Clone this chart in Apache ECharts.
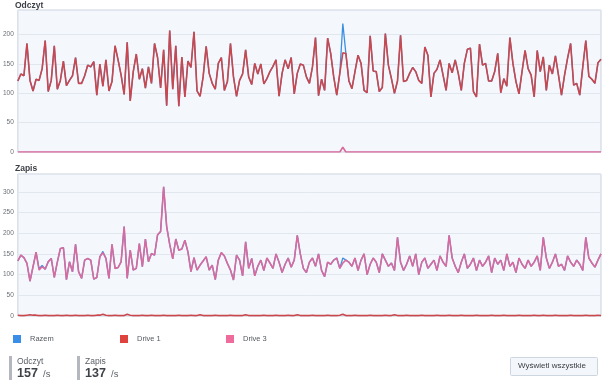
<!DOCTYPE html>
<html><head><meta charset="utf-8">
<script src="https://cdn.jsdelivr.net/npm/echarts@6/dist/echarts.min.js"></script>
<style>html,body{margin:0;padding:0;background:#fff;}#c{width:605px;height:383px;}</style>
</head><body><div id="c"></div>
<script>
const seriesNames = ['Razem', 'Drive 1', 'Drive 3'];
const readYTicks = [0, 50, 100, 150, 200];
const writeYTicks = [0, 50, 100, 150, 200, 250, 300];
const statLabels = ['Odczyt', 'Zapis'];
const statValues = [157, 137];
const statUnit = '/s';
const buttonText = 'Wyświetl wszystkie';

const readDrive1 = [121,133,130,185,122,104,124,122,142,190,103,122,181,107,122,155,113,122,130,161,117,117,130,148,145,154,97,150,112,157,104,120,181,157,131,98,187,87,137,167,124,142,109,145,117,185,161,109,174,79,207,107,181,78,162,94,155,144,205,104,
95,128,180,
134,117,107,151,161,105,120,185,128,95,122,133,174,128,115,151,133,150,116,125,137,146,157,95,134,157,142,161,99,134,150,
148,128,117,145,195,96,124,105,194,168,128,97,134,169,168,121,108,137,165,151,105,101,198,138,137,103,110,202,148,125,100,121,199,120,
122,134,144,137,122,117,179,165,94,134,141,157,131,105,151,135,157,134,105,151,175,177,103,94,184,148,151,121,121,137,168,101,125,
112,195,151,120,99,137,173,142,131,94,173,137,162,105,148,133,164,131,97,131,160,185,114,117,97,145,190,129,124,117,152,158];

const readRazem = [121,133,130,185,122,104,124,122,142,190,103,122,181,107,122,155,113,122,130,161,117,117,130,148,145,154,97,150,112,157,104,120,181,157,131,98,187,87,137,167,124,142,109,145,117,185,161,109,174,79,207,107,181,78,162,94,155,144,205,104,
95,128,180,
134,117,107,151,161,105,120,185,128,95,122,133,174,128,115,151,133,150,116,125,137,146,157,95,134,157,142,161,99,134,150,
148,128,117,145,195,96,124,105,194,168,128,97,134,219,168,121,108,137,165,151,105,101,198,138,137,103,110,202,148,125,100,121,199,120,
122,134,144,137,122,117,179,165,94,134,141,157,131,105,151,135,157,134,105,151,175,177,103,94,184,148,151,121,121,137,168,101,125,
112,195,151,120,99,137,173,142,131,94,173,137,162,105,148,133,164,131,97,131,160,185,114,117,97,145,190,129,124,117,152,158];

const readDrive3 = [0,0,0,0,0,0,0,0,0,0,0,0,0,0,0,0,0,0,0,0,0,0,0,0,0,0,0,0,0,0,0,0,0,0,0,0,0,0,0,0,0,0,0,0,0,0,0,0,0,0,0,0,0,0,0,0,0,0,0,0,
0,0,0,
0,0,0,0,0,0,0,0,0,0,0,0,0,0,0,0,0,0,0,0,0,0,0,0,0,0,0,0,0,0,0,
0,0,0,0,0,0,0,0,0,0,0,0,0,8,0,0,0,0,0,0,0,0,0,0,0,0,0,0,0,0,0,0,0,0,
0,0,0,0,0,0,0,0,0,0,0,0,0,0,0,0,0,0,0,0,0,0,0,0,0,0,0,0,0,0,0,0,0,
0,0,0,0,0,0,0,0,0,0,0,0,0,0,0,0,0,0,0,0,0,0,0,0,0,0,0,0,0,0,0,0];

const writeDrive3 = [133,147,141,127,84,119,154,111,119,113,131,139,93,130,163,165,88,131,107,173,107,91,135,139,135,89,93,143,153,139,91,173,115,117,131,216,91,159,111,115,175,119,186,131,151,147,196,204,312,216,173,138,186,159,162,183,155,107,141,111,123,133,143,
111,123,88,135,153,145,127,111,87,147,135,97,179,115,139,97,
120,135,110,140,128,115,150,130,105,125,140,118,135,195,150,115,
105,130,140,120,150,110,95,130,125,135,140,115,128,135,130,
120,140,110,135,150,100,125,140,130,105,150,135,120,128,110,190,
130,110,125,145,120,150,100,130,140,115,125,135,110,145,130,120,195,
140,120,105,130,150,115,125,140,110,135,120,130,145,105,140,
125,135,110,150,120,130,105,140,125,115,135,120,130,145,110,190,
140,115,130,150,120,125,110,145,130,120,135,125,110,190,140,128,118,135,150];

const writeRazem = [133,147,141,127,84,119,154,114,122,113,131,139,93,130,163,165,88,131,107,173,107,91,135,139,135,89,93,143,156,139,91,173,115,117,131,216,91,159,111,115,175,119,186,131,151,147,196,204,312,216,173,138,186,159,162,183,155,107,141,111,123,133,143,
111,123,88,135,153,145,127,111,87,147,135,97,179,115,139,97,
120,135,110,140,128,115,150,130,105,125,140,118,135,195,150,115,
105,130,140,120,150,110,95,130,125,135,140,115,140,135,130,
120,140,110,135,150,100,125,140,130,105,150,135,120,128,110,190,
130,110,125,145,120,150,100,130,140,115,125,135,110,145,130,120,195,
140,120,105,130,150,115,125,140,110,135,120,130,145,105,140,
125,135,110,150,120,130,105,140,125,115,135,120,130,145,110,190,
140,115,130,150,120,125,110,145,130,120,135,125,110,190,140,128,118,135,150];

const writeDrive1 = [2,1,1,2,3,2,2,1,1,2,1,1,1,2,1,1,2,1,1,2,1,1,1,2,1,1,2,2,4,2,1,1,2,1,1,1,4,2,1,1,1,2,1,1,2,1,1,1,2,1,1,1,1,2,1,1,1,2,1,1,3,1,1,
1,1,2,1,1,1,1,2,1,1,1,1,3,1,1,1,
1,1,2,1,1,1,2,1,1,1,2,1,1,3,1,1,
1,1,2,1,1,1,1,2,1,1,1,2,4,1,1,
1,2,1,1,1,1,2,1,1,1,1,2,1,1,3,1,
1,1,2,1,1,1,1,2,1,1,1,1,2,1,1,1,2,
1,1,1,2,1,1,1,1,2,1,1,1,1,2,1,
1,1,2,1,1,1,1,2,1,1,1,1,2,1,1,2,
1,1,1,2,1,1,1,1,2,1,1,1,1,2,1,1,1,2,1];

const colors = {razem:'#3b8fe2', drive1:'#c9474d', drive3:'#d96a9e'};
const legendColors = ['#3a8ee8', '#df433d', '#ef6b9b'];
const FONT = '"Liberation Sans", Arial, sans-serif';

const xRead = readDrive1.map((_, i) => i);
const xWrite = writeDrive3.map((_, i) => i);

function yAxis(gridIndex, max, ticks) {
  return {
    type:'value', gridIndex, min:0, max, interval:50,
    axisLine:{show:false}, axisTick:{show:false},
    axisLabel:{fontSize:6.5, color:'#6b6f75', margin:4, fontFamily:FONT, showMaxLabel:false,
      formatter: v => ticks.indexOf(v) >= 0 ? String(v) : ''},
    splitLine:{lineStyle:{color:'#e1e7ee', width:1}}
  };
}
function line(name, xi, data, color, z, w) {
  return {name, type:'line', xAxisIndex:xi, yAxisIndex:xi, data, showSymbol:false, symbol:'none',
    lineStyle:{color, width:w}, itemStyle:{color}, z, animation:false, silent:true};
}

const chart = echarts.init(document.getElementById('c'), null, {renderer:'canvas'});
const legends = seriesNames.map((n, i) => ({
  left:[8, 115, 221][i], top:330, itemWidth:8, itemHeight:8, itemGap:0, icon:'rect',
  textStyle:{fontSize:7.5, color:'#555a60', fontFamily:FONT, padding:[0,0,0,4]},
  data:[{name:n, itemStyle:{color:legendColors[i]}}], selectedMode:false
}));

const graphics = [];
statLabels.forEach((lab, i) => {
  const x0 = [9, 77][i];
  graphics.push({type:'rect', left:x0, top:356, shape:{width:3, height:24}, style:{fill:'#b4b8be'}});
  graphics.push({type:'text', left:x0+8, top:357, style:{text:lab, fontSize:8.5, fill:'#5b5f66', fontFamily:FONT}});
  graphics.push({type:'text', left:x0+8, top:367, style:{text:String(statValues[i]), fontSize:12.5, fontWeight:'bold', fill:'#3f4349', fontFamily:FONT}});
  graphics.push({type:'text', left:x0+34, top:369, style:{text:statUnit, fontSize:9.5, fill:'#5b5f66', fontFamily:FONT}});
});
graphics.push({type:'rect', left:510, top:357, shape:{width:87, height:18, r:1}, style:{fill:'#f3f6fa', stroke:'#cdd5df', lineWidth:1}});
graphics.push({type:'text', left:518, top:362, style:{text:buttonText, fontSize:8, fill:'#3a3e44', fontFamily:FONT}});

chart.setOption({
  animation:false,
  backgroundColor:'#ffffff',
  title:[
    {text:'Odczyt', left:15, top:1, textStyle:{fontSize:8.5, fontWeight:'bold', color:'#3c4046', fontFamily:FONT}, padding:0},
    {text:'Zapis', left:15, top:164, textStyle:{fontSize:8.5, fontWeight:'bold', color:'#3c4046', fontFamily:FONT}, padding:0}
  ],
  legend:legends,
  grid:[
    {left:16, right:4, top:10, height:142, show:true, backgroundColor:'#f4f8fc', borderColor:'#cbd3de', borderWidth:1},
    {left:16, right:4, top:174, height:142, show:true, backgroundColor:'#f4f8fc', borderColor:'#cbd3de', borderWidth:1}
  ],
  xAxis:[
    {type:'category', gridIndex:0, data:xRead, boundaryGap:false, show:false},
    {type:'category', gridIndex:1, data:xWrite, boundaryGap:false, show:false}
  ],
  yAxis:[yAxis(0, 242, readYTicks), yAxis(1, 343, writeYTicks)],
  series:[
    line('Razem', 0, readRazem, colors.razem, 2, 1.3),
    line('Drive 1', 0, readDrive1, colors.drive1, 3, 1.6),
    line('Drive 3', 0, readDrive3, colors.drive3, 4, 1.6),
    line('Razem', 1, writeRazem, colors.razem, 2, 1.3),
    line('Drive 1', 1, writeDrive1, colors.drive1, 3, 1.6),
    line('Drive 3', 1, writeDrive3, colors.drive3, 4, 1.6)
  ],
  graphic:graphics
});
</script></body></html>
